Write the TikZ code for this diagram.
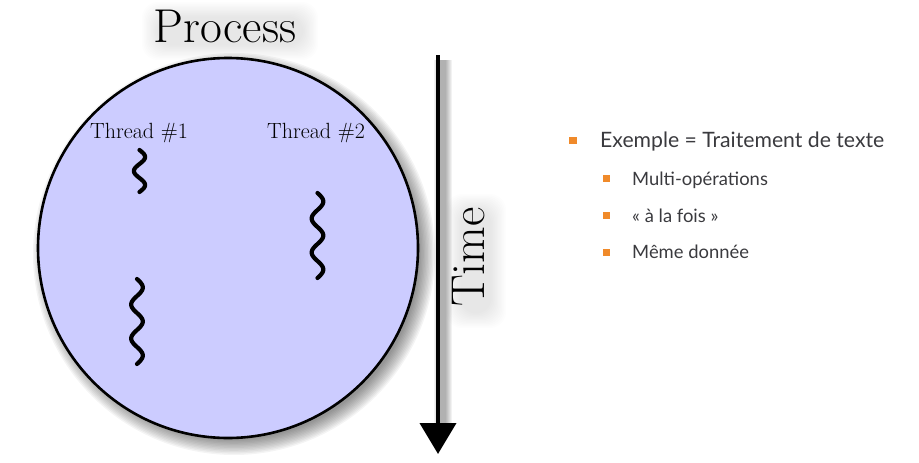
\documentclass[tikz,border=0pt]{standalone}
\usepackage{fontspec}
\newfontfamily\bulletfont{Lato}
\usetikzlibrary{arrows.meta}
\definecolor{procfill}{RGB}{204,204,255}
\definecolor{bulletorange}{RGB}{240,138,42}
\definecolor{textgray}{RGB}{58,58,62}
\tikzset{
  bigtitle/.style={font=\fontsize{47.5}{52}\selectfont\addfontfeatures{FakeBold=0.6}, inner sep=0pt},
  threadlabel/.style={font=\fontsize{22}{26}\selectfont\addfontfeatures{FakeBold=2}, inner sep=0pt, anchor=base},
  squig/.style={line width=4.2pt, line cap=round, line join=round},
  mainitem/.style={font=\bulletfont\fontsize{21.2}{25}\selectfont, text=textgray, inner sep=0pt, anchor=base west},
  subitem/.style={font=\bulletfont\fontsize{18.4}{22}\selectfont, text=textgray, inner sep=0pt, anchor=base west},
  bulletsq/.style={fill=bulletorange, draw=none},
  softshade/.style={fill=black, opacity=0.009, draw=none, rounded corners=16pt}
}
\begin{document}
\begin{tikzpicture}[x=1pt,y=-1pt]
\useasboundingbox (0,0) rectangle (919,463);

% --- soft shadows ---
\foreach \k in {0,...,11}{
  \fill[black, opacity=0.045] (234,254) circle ({191+10-1.4*\k});
}
\foreach \k in {0,...,11}{
  \fill[softshade] ({150-8+1.3*\k},{8-6+1.3*\k}) rectangle ({302+16-1.3*\k},{46+14-1.3*\k});
  \fill[softshade] ({452-6+1.3*\k},{202-8+1.3*\k}) rectangle ({490+16-1.3*\k},{314+14-1.3*\k});
}
\foreach \k in {0,...,6}{
  \draw[black, opacity=0.05, line width={18pt-2pt*\k}] (443,60) -- (443,430);
}

% --- process circle ---
\node[circle, draw=black, line width=2.6pt, fill=procfill, minimum size=380pt, inner sep=0pt] (proc) at (228,248) {};
\node[bigtitle, anchor=base] (ptitle) at (225,42) {Process};

% --- thread labels ---
\node[threadlabel] (t1) at (139,138) {Thread \#1};
\node[threadlabel] (t2) at (316,138) {Thread \#2};

% --- squiggles ---
\draw[squig] plot[domain=0:42, samples=90] ({139.5+5.6*sin(12.857*\x)}, {150+\x});
\draw[squig] plot[domain=0:85, samples=160] ({137+5.8*sin(10.588*\x)}, {279+\x});
\draw[squig] plot[domain=0:85, samples=160] ({317.5+5.8*sin(10.588*\x)}, {193+\x});

% --- time arrow ---
\coordinate (ttop) at (438,55);
\coordinate (tbot) at (438,454);
\draw[line width=4pt, -{Triangle[width=36pt,length=31pt]}] (ttop) -- (tbot);
\node[bigtitle, rotate=90] (time) at (469,257) {Time};

% --- bullet list ---
\fill[bulletsq] (569,137) rectangle (577,144);
\node[mainitem] (b0) at (600,147) {Exemple = Traitement de texte};
\fill[bulletsq] (603,175) rectangle (610,182);
\node[subitem] (b1) at (632,185) {Multi-opérations};
\fill[bulletsq] (603,212) rectangle (610,219);
\node[subitem] (b2) at (632,222) {« à la fois »};
\fill[bulletsq] (603,249) rectangle (610,256);
\node[subitem] (b3) at (632,258) {Même donnée};
\end{tikzpicture}
\end{document}
